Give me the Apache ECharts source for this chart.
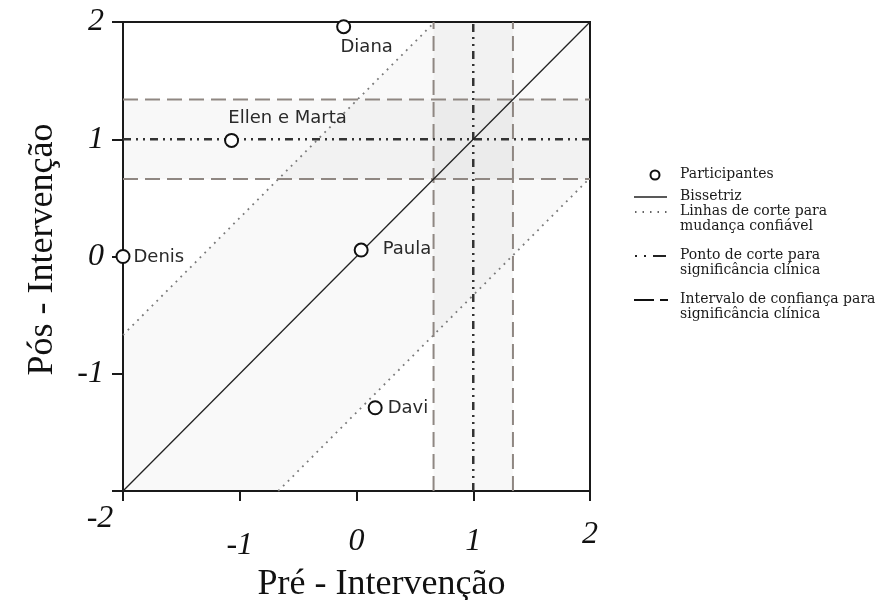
<!DOCTYPE html>
<html>
<head>
<meta charset="utf-8">
<script src="https://cdn.jsdelivr.net/npm/echarts@6/dist/echarts.min.js"></script>
<style>html,body{margin:0;padding:0;background:#fff;}#c{width:891px;height:600px;}</style>
</head>
<body>
<div id="c"></div>
<script>
// ---- data ----
const participants = ['Diana', 'Ellen e Marta', 'Denis', 'Paula', 'Davi'];
const preValues = [-0.11, -1.07, -2.0, 0.04, 0.16];
const postValues = [1.96, 0.99, 0.0, 0.055, -1.29];
const axisTicks = [-2, -1, 0, 1, 2];
const axisRange = [-2, 2];
const reliableChange = 1.33;        // cut-off for reliable change (diagonal offset)
const clinicalCutoff = 1;           // cut-off point for clinical significance
const clinicalCI = [0.66, 1.34];    // confidence interval for clinical significance
const legendNames = ['Participantes', 'Bissetriz', 'Linhas de corte para\nmudança confiável',
  'Ponto de corte para\nsignificância clínica', 'Intervalo de confiança para\nsignificância clínica'];

const [lo, hi] = axisRange;
const chart = echarts.init(document.getElementById('c'), null, {renderer: 'canvas'});

const scatterData = participants.map((n, i) => ({name: n, value: [preValues[i], postValues[i]]}));
const labelPos = {
  'Diana': {position: 'bottom', offset: [23, 0], distance: 4},
  'Ellen e Marta': {position: 'top', offset: [56, -2], distance: 4},
  'Denis': {position: 'right', offset: [0, 1], distance: 3},
  'Paula': {position: 'right', offset: [0, -1], distance: 14},
  'Davi': {position: 'right', offset: [0, 1], distance: 5}
};
scatterData.forEach(d => { d.label = labelPos[d.name]; });

const dotted = {type: [1.8, 5], width: 1.8, color: '#7a7a7a'};
const dashDot = {type: [8, 5, 2, 5, 2, 5], width: 2.5, color: '#333'};
const longDash = {type: [15, 7], width: 2, color: '#8f8782'};

function lineSeries(name, data, style, z) {
  return {type: 'line', name, data, symbol: 'none', lineStyle: style, z: z || 3, silent: true, animation: false, clip: true};
}

const tickFont = {fontFamily: 'Liberation Serif', fontStyle: 'italic', fontSize: 32, color: '#111'};
const xLabelRich = {
  m2: Object.assign({padding: [0, 46, 0, 0]}, tickFont),
  m1: Object.assign({padding: [27, 0, 0, 0]}, tickFont),
  z0: Object.assign({padding: [23, 0, 0, 0]}, tickFont),
  p1: Object.assign({padding: [23, 0, 0, 0]}, tickFont),
  p2: Object.assign({padding: [16, 0, 0, 0]}, tickFont)
};
const xKey = {'-2': 'm2', '-1': 'm1', '0': 'z0', '1': 'p1', '2': 'p2'};

const option = {
  animation: false,
  backgroundColor: '#fff',
  grid: {left: 123, top: 22, width: 467, height: 469, containLabel: false, outerBoundsMode: 'none',
    show: true, borderColor: '#1a1a1a', borderWidth: 2, backgroundColor: 'transparent'},
  xAxis: {
    type: 'value', min: lo, max: hi, interval: 1,
    splitLine: {show: false},
    axisLine: {onZero: false, lineStyle: {color: '#1a1a1a', width: 2}},
    axisTick: {inside: false, length: 10, lineStyle: {color: '#1a1a1a', width: 2}},
    axisLabel: {margin: 12, formatter: v => '{' + xKey[String(v)] + '|' + v + '}', rich: xLabelRich},
    name: 'Pré - Intervenção', nameLocation: 'middle', nameGap: 73,
    nameTextStyle: {fontFamily: 'Liberation Serif', fontSize: 36, color: '#111', padding: [0, 0, 0, 50]}
  },
  yAxis: {
    type: 'value', min: lo, max: hi, interval: 1,
    splitLine: {show: false},
    axisLine: {onZero: false, lineStyle: {color: '#1a1a1a', width: 2}},
    axisTick: {inside: false, length: 11, lineStyle: {color: '#1a1a1a', width: 2}},
    axisLabel: Object.assign({margin: 19, formatter: v => (v === lo ? '' : String(v))}, tickFont),
    name: 'Pós - Intervenção', nameLocation: 'middle', nameGap: 62,
    nameTextStyle: {fontFamily: 'Liberation Serif', fontSize: 36, color: '#111', padding: [0, 0, 0, 14]}
  },
  series: [
    {
      type: 'custom', name: 'faixa', silent: true, z: 1,
      data: [[0]],
      renderItem: (params, api) => {
        const r = reliableChange;
        const pts = [[lo, lo], [lo, lo + r], [hi - r, hi], [hi, hi], [hi, hi - r], [lo + r, lo]].map(p => api.coord(p));
        return {type: 'polygon', shape: {points: pts}, style: {fill: 'rgba(0,0,0,0.022)'}};
      }
    },
    {
      type: 'line', name: 'bandas', data: [], silent: true, z: 1,
      markArea: {
        silent: true,
        itemStyle: {color: 'rgba(0,0,0,0.028)'},
        data: [
          [{yAxis: clinicalCI[0]}, {yAxis: clinicalCI[1]}],
          [{xAxis: clinicalCI[0]}, {xAxis: clinicalCI[1]}]
        ]
      }
    },
    lineSeries('corteSup', [[lo, lo + reliableChange], [hi - reliableChange, hi]], dotted),
    lineSeries('corteInf', [[lo + reliableChange, lo], [hi, hi - reliableChange]], dotted),
    lineSeries('ciX1', [[clinicalCI[0], lo], [clinicalCI[0], hi]], longDash),
    lineSeries('ciX2', [[clinicalCI[1], lo], [clinicalCI[1], hi]], longDash),
    lineSeries('ciY1', [[lo, clinicalCI[0]], [hi, clinicalCI[0]]], longDash),
    lineSeries('ciY2', [[lo, clinicalCI[1]], [hi, clinicalCI[1]]], longDash),
    lineSeries('cutX', [[clinicalCutoff, lo], [clinicalCutoff, hi]], dashDot, 4),
    lineSeries('cutY', [[lo, clinicalCutoff], [hi, clinicalCutoff]], dashDot, 4),
    lineSeries('Bissetriz', [[lo, lo], [hi, hi]], {type: 'solid', width: 1.3, color: '#222'}, 5),
    {
      type: 'scatter', name: 'Participantes', data: scatterData, clip: false, z: 10,
      symbol: 'circle', symbolSize: 13,
      itemStyle: {color: '#fff', borderColor: '#111', borderWidth: 2, opacity: 1},
      label: {show: true, formatter: '{b}', fontFamily: 'DejaVu Sans', fontSize: 18, color: '#2a2a2a'}
    }
  ],
  graphic: [
    {type: 'circle', shape: {cx: 655, cy: 175, r: 4.5}, style: {fill: '#fff', stroke: '#111', lineWidth: 2}},
    {type: 'line', shape: {x1: 634, y1: 197, x2: 667, y2: 197}, style: {stroke: '#222', lineWidth: 1.3}},
    {type: 'line', shape: {x1: 635, y1: 212, x2: 667, y2: 212}, style: {stroke: '#333', lineWidth: 1.5, lineDash: [1.5, 6]}},
    {type: 'line', shape: {x1: 635, y1: 256, x2: 668, y2: 256}, style: {stroke: '#222', lineWidth: 2, lineDash: [2, 7, 2, 7, 13, 100]}},
    {type: 'line', shape: {x1: 634, y1: 300, x2: 668, y2: 300}, style: {stroke: '#111', lineWidth: 2, lineDash: [20, 6, 8, 100]}},
    ...legendNames.map((t, i) => ({
      type: 'text', left: 680, top: [167, 189, 204, 248, 292][i],
      style: {text: t, font: '14px "DejaVu Serif"', fill: '#1a1a1a', lineHeight: 15}
    }))
  ]
};
chart.setOption(option);
</script>
</body>
</html>
